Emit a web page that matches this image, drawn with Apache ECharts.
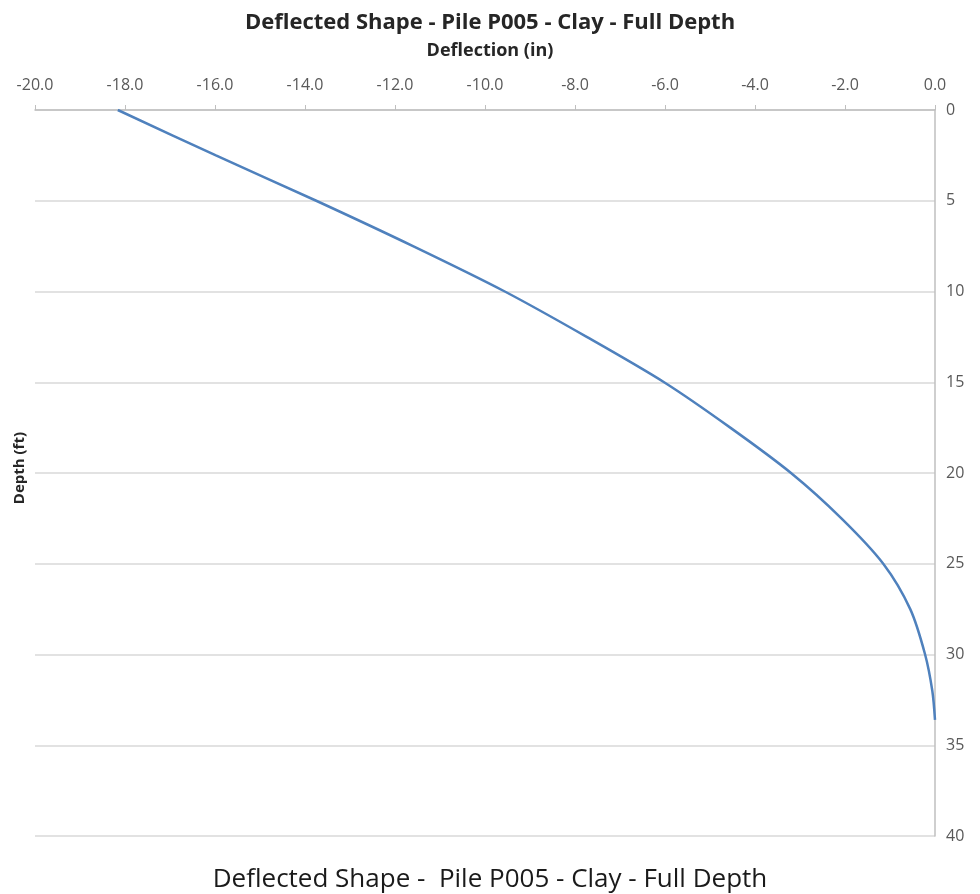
<!DOCTYPE html>
<html>
<head>
<meta charset="utf-8">
<script src="https://cdn.jsdelivr.net/npm/echarts@6/dist/echarts.min.js"></script>
<style>
  html, body { margin: 0; padding: 0; background: #fff; }
  #chart { width: 980px; height: 894px; }
</style>
</head>
<body>
<div id="chart"></div>
<script>
// Pile deflection profile: depth below head (ft) vs lateral deflection (in)
const depthFt = [0, 2.5, 5, 7.5, 10, 12.5, 15, 17.5, 20, 22.5, 25, 27.5, 30, 32, 33.6];
const deflectionIn = [-18.16, -15.98, -13.75, -11.6, -9.56, -7.74, -6.02, -4.55, -3.2, -2.08, -1.15, -0.55, -0.22, -0.06, 0.0];

const chartTitle = 'Deflected Shape - Pile P005 - Clay - Full Depth';
const captionText = 'Deflected Shape -  Pile P005 - Clay - Full Depth';
const xAxisTitle = 'Deflection (in)';
const yAxisTitle = 'Depth (ft)';

const chart = echarts.init(document.getElementById('chart'));

chart.setOption({
  animation: false,
  backgroundColor: '#ffffff',
  title: [
    {
      text: chartTitle,
      left: 'center',
      top: 7,
      textStyle: { fontFamily: 'Open Sans', fontWeight: 'bold', fontSize: 22, color: '#262626' }
    },
    {
      text: captionText,
      left: 'center',
      top: 862,
      textStyle: { fontFamily: 'Open Sans', fontWeight: 'normal', fontSize: 26, color: '#1a1a1a' }
    }
  ],
  graphic: [
    {
      type: 'text',
      left: 'center',
      top: 42,
      style: { text: xAxisTitle, font: 'bold 18px "Open Sans"', fill: '#262626' }
    },
    {
      type: 'text',
      left: 12,
      top: 432,
      rotation: Math.PI / 2,
      style: { text: yAxisTitle, font: 'bold 15px "Open Sans"', fill: '#262626' }
    }
  ],
  grid: { left: 35, right: 45, top: 110, bottom: 58, containLabel: false },
  xAxis: {
    type: 'value',
    position: 'top',
    min: -20,
    max: 0,
    interval: 2,
    axisLine: { show: true, lineStyle: { color: '#bfbfbf', width: 1.5 } },
    axisTick: { show: true, length: 5, lineStyle: { color: '#bfbfbf' } },
    axisLabel: {
      formatter: v => v.toFixed(1),
      fontFamily: 'Open Sans',
      fontSize: 16,
      color: '#595959',
      margin: 17
    },
    splitLine: { show: false }
  },
  yAxis: {
    type: 'value',
    position: 'right',
    inverse: true,
    min: 0,
    max: 40,
    interval: 5,
    axisLine: { show: true, lineStyle: { color: '#bfbfbf', width: 1.5 } },
    axisTick: { show: false },
    axisLabel: {
      fontFamily: 'Open Sans',
      fontSize: 16,
      color: '#595959',
      margin: 11
    },
    splitLine: { show: true, lineStyle: { color: '#d9d9d9', width: 1.5 } }
  },
  series: [
    {
      type: 'line',
      data: depthFt.map((d, i) => [deflectionIn[i], d]),
      smooth: 0.3,
      showSymbol: false,
      lineStyle: { color: '#4f81bd', width: 2.5 }
    }
  ]
});
</script>
</body>
</html>
